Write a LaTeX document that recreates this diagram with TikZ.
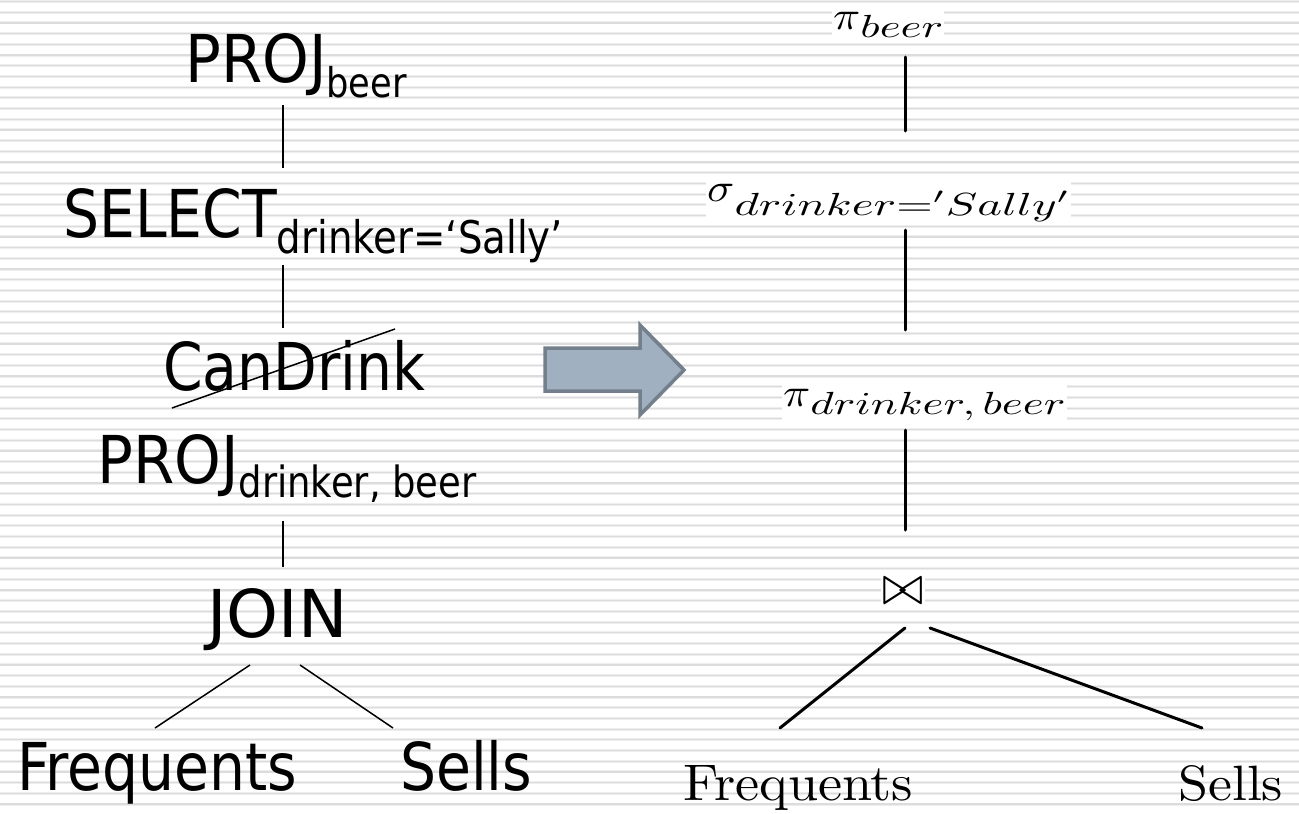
\documentclass[tikz,border=0pt]{standalone}
\usepackage{graphicx}
\usepackage{fontspec}
\newfontfamily\tah[FakeStretch=0.86]{DejaVu Sans}
\newfontfamily\tahp[FakeStretch=0.9]{DejaVu Sans}
\newfontfamily\tahw{DejaVu Sans}
\usetikzlibrary{calc}
\definecolor{stripe}{RGB}{220,220,220}
\definecolor{stripelight}{RGB}{238,238,238}
\definecolor{arrowfill}{RGB}{160,176,192}
\definecolor{arrowline}{RGB}{115,127,138}
\newcommand\lsubx[3]{\raisebox{-#1pt}{\fontsize{#2}{#2}\selectfont #3}}
\newcommand\fitbox[3]{\resizebox*{#1pt}{#2pt}{#3}}
% main symbol, subscript, drop, subscript x-scale
\newcommand\mlab[4]{\scalebox{4.5}[4.0]{$#1$}\raisebox{-#3pt}{\scalebox{#4}[3.2]{$#2$}}}
\begin{document}
\begin{tikzpicture}[x=1pt,y=-1pt,
  lefttext/.style={anchor=base west, inner sep=0pt, font=\tah\fontsize{66}{70}\selectfont},
  righttext/.style={anchor=base west, inner sep=0pt},
  mathlbl/.style={fill=white, inner xsep=1pt, inner ysep=3.5pt},
  thinline/.style={line width=1.5pt},
  thickline/.style={line width=3pt, line cap=round},
  blockarrow/.style={fill=arrowfill, draw=arrowline, line width=3.5pt, line join=miter}]
\useasboundingbox (0,0) rectangle (1299,814);
% striped background
\fill[white] (0,0) rectangle (1299,814);
\foreach \i in {0,...,75} {
  \draw[stripelight, line width=3pt] (0,{1.5+10.7*\i}) -- (1299,{1.5+10.7*\i});
  \draw[stripe, line width=1.2pt] (0,{1.5+10.7*\i}) -- (1299,{1.5+10.7*\i});
}
% left tree
\node[lefttext] (projb) at (185,82) {{\tahp PROJ}\lsubx{15}{41}{beer}};
\node[lefttext] (sel) at (63,237) {SELECT\lsubx{16}{45}{drinker=‘Sally’}};
\node[lefttext] (cand) at (163,390) {CanDrink};
\node[lefttext] (projdb) at (97,483) {{\tahp PROJ}\lsubx{14}{43}{drinker, beer}};
\node[lefttext] (join) at (207,637) {{\tahw JOIN}};
\node[lefttext] (freqL) at (17,790) {Frequents};
\node[lefttext] (sellsL) at (400,790) {Sells};
\coordinate (ls) at (283,0);
\draw[thinline] ($(projb.base -| ls)+(0,23)$) -- ($(sel.base -| ls)+(0,-69)$);
\draw[thinline] ($(sel.base -| ls)+(0,28)$) -- ($(cand.base -| ls)+(0,-62)$);
\draw[thinline] ($(projdb.base -| ls)+(0,38)$) -- ($(join.base -| ls)+(0,-70)$);
\draw[thinline] ($(join.base west)+(43,28)$) -- ($(freqL.base west)+(138,-62)$);
\draw[thinline] ($(join.base west)+(93,28)$) -- ($(sellsL.base west)+(-7,-62)$);
\draw[thinline] ($(cand.base west)+(9,18)$) -- ($(cand.base west)+(232,-61)$);
% block arrow
\draw[blockarrow] (545,348) -- (640,348) -- (640,325) -- (684,370) -- (640,415) -- (640,391) -- (545,391) -- cycle;
% right tree
\node[mathlbl, anchor=base west] (pb) at (832,29) {\mlab{\pi}{beer}{8}{4.5}};
\node[mathlbl, anchor=base west] (sig) at (706,201) {\mlab{\sigma}{drinker{=}'Sally'}{14}{4.7}};
\node[mathlbl, anchor=base west] (pdb) at (782,406) {\mlab{\pi}{drinker,beer}{8}{4.5}};
\node[mathlbl] (bt) at (903,591) {\fitbox{42}{26}{$\bowtie$}};
\node[righttext] (freqR) at (683,800) {\resizebox{230pt}{35pt}{Frequents}};
\node[righttext] (sellsR) at (1178,800) {\resizebox{105pt}{35pt}{Sells}};
\coordinate (rs) at (905,0);
\draw[thickline] ($(pb.base -| rs)+(0,28)$) -- ($(sig.base -| rs)+(0,-70)$);
\draw[thickline] ($(sig.base -| rs)+(0,29)$) -- ($(pdb.base -| rs)+(0,-76)$);
\draw[thickline] ($(pdb.base -| rs)+(0,24)$) -- ($(bt -| rs)+(0,-61)$);
\draw[thickline] ($(bt -| rs)+(0,37)$) -- ($(freqR.base west)+(97,-72)$);
\draw[thickline] ($(bt -| rs)+(25,37)$) -- ($(sellsR.base west)+(24,-72)$);
\end{tikzpicture}
\end{document}
